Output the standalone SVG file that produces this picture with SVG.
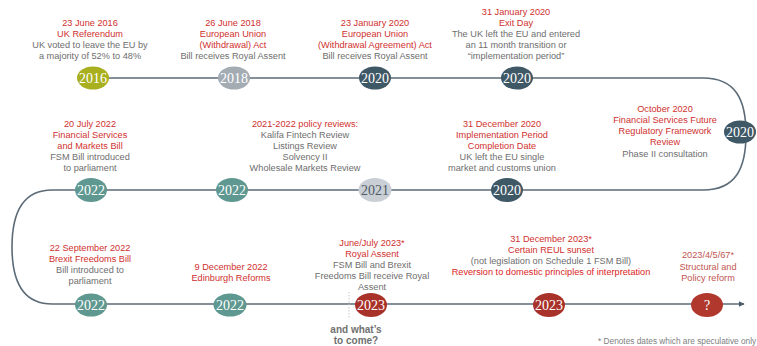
<svg xmlns="http://www.w3.org/2000/svg" width="757" height="346" viewBox="0 0 757 346">
<defs>
<marker id="arr" viewBox="0 0 10 10" refX="9" refY="5" markerWidth="6" markerHeight="6" markerUnits="userSpaceOnUse" orient="auto">
<path d="M0,0 L10,5 L0,10 z" fill="#4a5a68"/>
</marker>
</defs>
<style>
.t{font-family:"Liberation Sans",Arial,sans-serif;font-size:9.2px;text-anchor:middle}
.h{fill:#d0302e}
.hl{fill:#c25550}
.b{fill:#6e6e6e}
.y{font-family:"Liberation Serif","Times New Roman",serif;font-size:14px;text-anchor:middle;fill:#ffffff}
.line{fill:none;stroke:#5b6b78;stroke-width:1.6}
.q{font-family:"Liberation Sans",Arial,sans-serif;font-size:10px;font-weight:bold;fill:#707070;text-anchor:middle}
</style>
<rect width="757" height="346" fill="#ffffff"/>
<g id="connectors">
<path class="line" d="M93 78 H703 C736 78 746 100 746 134 C746 168 736 190 703 190 H52 C22 190 12 215 12 247 C12 280 22 304 52 304 H744" marker-end="url(#arr)"/>
<line x1="349" y1="292" x2="349" y2="318" stroke="#c8c8c8" stroke-width="1" stroke-dasharray="1.5 1.5"/>
</g>
<g id="n2016">
<ellipse cx="93" cy="78" rx="16" ry="11.5" fill="#a9b01f"/>
<text class="y" x="93" y="83">2016</text>
<text class="t h" x="90" y="26">23 June 2016</text>
<text class="t h" x="90" y="37">UK Referendum</text>
<text class="t b" x="90" y="48">UK voted to leave the EU by</text>
<text class="t b" x="90" y="59">a majority of 52% to 48%</text>
</g>
<g id="n2018">
<ellipse cx="234" cy="78" rx="16" ry="11.5" fill="#a3abb3"/>
<text class="y" x="234" y="83">2018</text>
<text class="t h" x="233" y="26">26 June 2018</text>
<text class="t h" x="233" y="37">European Union</text>
<text class="t h" x="233" y="48">(Withdrawal) Act</text>
<text class="t b" x="233" y="59">Bill receives Royal Assent</text>
</g>
<g id="n2020a">
<ellipse cx="375" cy="78" rx="16" ry="11.5" fill="#3f5866"/>
<text class="y" x="375" y="83">2020</text>
<text class="t h" x="375" y="26">23 January 2020</text>
<text class="t h" x="375" y="37">European Union</text>
<text class="t h" x="375" y="48">(Withdrawal Agreement) Act</text>
<text class="t b" x="375" y="59">Bill receives Royal Assent</text>
</g>
<g id="n2020b">
<ellipse cx="517" cy="78" rx="16" ry="11.5" fill="#3f5866"/>
<text class="y" x="517" y="83">2020</text>
<text class="t h" x="516" y="15">31 January 2020</text>
<text class="t h" x="516" y="26">Exit Day</text>
<text class="t b" x="516" y="37">The UK left the EU and entered</text>
<text class="t b" x="516" y="48">an 11 month transition or</text>
<text class="t b" x="516" y="59">“implementation period”</text>
</g>
<g id="n2020c">
<ellipse cx="740" cy="132" rx="16" ry="11.5" fill="#3f5866"/>
<text class="y" x="740" y="137">2020</text>
<text class="t h" x="665" y="111.5">October 2020</text>
<text class="t h" x="665" y="122.7">Financial Services Future</text>
<text class="t h" x="665" y="134">Regulatory Framework</text>
<text class="t h" x="665" y="145.2">Review</text>
<text class="t b" x="665" y="156.5">Phase II consultation</text>
</g>
<g id="n2020d">
<ellipse cx="507" cy="190" rx="16" ry="12" fill="#3f5866"/>
<text class="y" x="507" y="195">2020</text>
<text class="t h" x="502" y="127">31 December 2020</text>
<text class="t h" x="502" y="138">Implementation Period</text>
<text class="t h" x="502" y="149">Completion Date</text>
<text class="t b" x="502" y="160">UK left the EU single</text>
<text class="t b" x="502" y="171">market and customs union</text>
</g>
<g id="n2021">
<ellipse cx="375" cy="190" rx="16.5" ry="12" fill="#c9cfd5"/>
<text class="y" x="375" y="195" style="fill:#4e5a64">2021</text>
<text class="t h" x="305" y="127">2021-2022 policy reviews:</text>
<text class="t b" x="305" y="138">Kalifa Fintech Review</text>
<text class="t b" x="305" y="149">Listings Review</text>
<text class="t b" x="305" y="160">Solvency II</text>
<text class="t b" x="305" y="171">Wholesale Markets Review</text>
</g>
<g id="n2022a">
<ellipse cx="232" cy="190" rx="16" ry="12" fill="#5e9890"/>
<text class="y" x="232" y="195">2022</text>
</g>
<g id="n2022b">
<ellipse cx="91" cy="190" rx="16" ry="12" fill="#5e9890"/>
<text class="y" x="91" y="195">2022</text>
<text class="t h" x="90" y="127">20 July 2022</text>
<text class="t h" x="90" y="138">Financial Services</text>
<text class="t h" x="90" y="149">and Markets Bill</text>
<text class="t b" x="90" y="160">FSM Bill introduced</text>
<text class="t b" x="90" y="171">to parliament</text>
</g>
<g id="n2022c">
<ellipse cx="91" cy="305" rx="16" ry="11.5" fill="#5e9890"/>
<text class="y" x="91" y="310">2022</text>
<text class="t h" x="90" y="250.5">22 September 2022</text>
<text class="t h" x="90" y="261.7">Brexit Freedoms Bill</text>
<text class="t b" x="90" y="272.9">Bill introduced to</text>
<text class="t b" x="90" y="284">parliament</text>
</g>
<g id="n2022d">
<ellipse cx="230" cy="305" rx="16.5" ry="11.5" fill="#5e9890"/>
<text class="y" x="230" y="310">2022</text>
<text class="t h" x="231" y="270">9 December 2022</text>
<text class="t h" x="231" y="281">Edinburgh Reforms</text>
</g>
<g id="n2023a">
<ellipse cx="371" cy="305" rx="16" ry="12" fill="#a8322a"/>
<text class="y" x="371" y="310">2023</text>
<text class="t h" x="372" y="245.5">June/July 2023*</text>
<text class="t h" x="372" y="256.5">Royal Assent</text>
<text class="t b" x="372" y="267.5">FSM Bill and Brexit</text>
<text class="t b" x="372" y="278.5">Freedoms Bill receive Royal</text>
<text class="t b" x="372" y="289.5">Assent</text>
</g>
<g id="n2023b">
<ellipse cx="549" cy="305" rx="16" ry="12" fill="#a8322a"/>
<text class="y" x="549" y="310">2023</text>
<text class="t h" x="551" y="242.3">31 December 2023*</text>
<text class="t h" x="551" y="253.3">Certain REUL sunset</text>
<text class="t b" x="551" y="264">(not legislation on Schedule 1 FSM Bill)</text>
<text class="t h" x="551" y="275" style="fill:#dc2424">Reversion to domestic principles of interpretation</text>
</g>
<g id="nfuture">
<ellipse cx="707" cy="305" rx="16" ry="12" fill="#b0382d"/>
<text class="y" x="707" y="310">?</text>
<text class="t hl" x="708" y="258.3">2023/4/5/67*</text>
<text class="t hl" x="708" y="269.5">Structural and</text>
<text class="t hl" x="708" y="280.7">Policy reform</text>
</g>
<g id="notes">
<text class="q" x="356" y="333">and what’s</text>
<text class="q" x="356" y="343.5">to come?</text>
<text x="598" y="344" style="font-family:'Liberation Sans',Arial,sans-serif;font-size:8.3px;fill:#808080">* Denotes dates which are speculative only</text>
</g>
</svg>
